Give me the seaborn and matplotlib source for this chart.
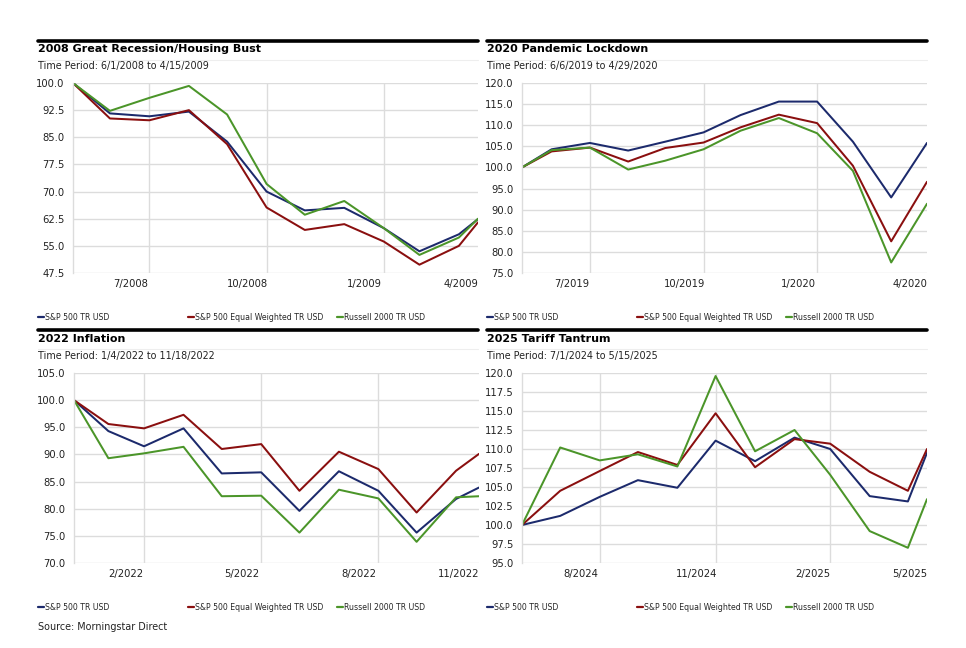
import numpy as np
import pandas as pd
import matplotlib.pyplot as plt
from matplotlib.lines import Line2D
from matplotlib.ticker import FormatStrFormatter
import seaborn as sns

# series names and colours
series = ['S&P 500 TR USD', 'S&P 500 Equal Weighted TR USD', 'Russell 2000 TR USD']
colors = ['#1c2a6c', '#8a0f0f', '#4b9529']

# 2008 Great Recession / Housing Bust
dates_2008 = ['2008-06-01', '2008-06-30', '2008-07-31', '2008-08-31', '2008-09-30', '2008-10-31',
              '2008-11-30', '2008-12-31', '2009-01-31', '2009-02-28', '2009-03-31', '2009-04-15']
spx_2008 = [100.0, 91.6, 90.8, 92.1, 83.8, 70.0, 64.8, 65.5, 59.9, 53.5, 58.2, 62.4]
ew_2008 = [100.0, 90.2, 89.7, 92.5, 83.1, 65.6, 59.4, 61.0, 56.2, 49.8, 55.0, 61.5]
rut_2008 = [100.0, 92.3, 95.9, 99.2, 91.3, 72.1, 63.6, 67.4, 59.9, 52.5, 57.3, 62.5]

# 2020 Pandemic Lockdown
dates_2020 = ['2019-06-06', '2019-06-30', '2019-07-31', '2019-08-31', '2019-09-30', '2019-10-31',
              '2019-11-30', '2019-12-31', '2020-01-31', '2020-02-29', '2020-03-31', '2020-04-29']
spx_2020 = [100.0, 104.3, 105.8, 104.0, 106.1, 108.3, 112.4, 115.6, 115.6, 106.1, 92.9, 105.8]
ew_2020 = [100.0, 103.8, 104.7, 101.4, 104.6, 105.9, 109.5, 112.5, 110.5, 100.4, 82.5, 96.6]
rut_2020 = [100.0, 104.1, 104.7, 99.5, 101.6, 104.3, 108.7, 111.7, 108.1, 99.2, 77.5, 91.4]

# 2022 Inflation
dates_2022 = ['2022-01-04', '2022-01-31', '2022-02-28', '2022-03-31', '2022-04-30', '2022-05-31',
              '2022-06-30', '2022-07-31', '2022-08-31', '2022-09-30', '2022-10-31', '2022-11-18']
spx_2022 = [100.0, 94.3, 91.5, 94.8, 86.5, 86.7, 79.6, 86.9, 83.3, 75.6, 81.8, 83.9]
ew_2022 = [100.0, 95.6, 94.8, 97.3, 91.0, 91.9, 83.3, 90.5, 87.3, 79.3, 87.0, 90.1]
rut_2022 = [100.0, 89.3, 90.2, 91.4, 82.3, 82.4, 75.6, 83.5, 81.9, 73.9, 82.1, 82.3]

# 2025 Tariff Tantrum
dates_2025 = ['2024-07-01', '2024-07-31', '2024-08-31', '2024-09-30', '2024-10-31', '2024-11-30',
              '2024-12-31', '2025-01-31', '2025-02-28', '2025-03-31', '2025-04-30', '2025-05-15']
spx_2025 = [100.0, 101.2, 103.7, 105.9, 104.9, 111.1, 108.4, 111.5, 110.0, 103.8, 103.1, 109.5]
ew_2025 = [100.0, 104.5, 107.1, 109.6, 107.9, 114.7, 107.6, 111.3, 110.7, 107.0, 104.5, 110.0]
rut_2025 = [100.0, 110.2, 108.5, 109.3, 107.7, 119.6, 109.7, 112.5, 106.6, 99.2, 97.0, 103.4]

# tick labels (label at mid month, gridline at month end)
labels_2008 = ['7/2008', '10/2008', '1/2009', '4/2009']
labpos_2008 = ['2008-07-16', '2008-10-16', '2009-01-16']
grid_2008 = ['2008-07-31', '2008-10-31', '2009-01-31']
labels_2020 = ['7/2019', '10/2019', '1/2020', '4/2020']
labpos_2020 = ['2019-07-16', '2019-10-16', '2020-01-16']
grid_2020 = ['2019-07-31', '2019-10-31', '2020-01-31']
labels_2022 = ['2/2022', '5/2022', '8/2022', '11/2022']
labpos_2022 = ['2022-02-14', '2022-05-16', '2022-08-16']
grid_2022 = ['2022-02-28', '2022-05-31', '2022-08-31']
labels_2025 = ['8/2024', '11/2024', '2/2025', '5/2025']
labpos_2025 = ['2024-08-16', '2024-11-15', '2025-02-14']
grid_2025 = ['2024-08-31', '2024-11-30', '2025-02-28']

panels = [
    dict(title='2008 Great Recession/Housing Bust', period='Time Period: 6/1/2008 to 4/15/2009',
         dates=dates_2008, vals=[spx_2008, ew_2008, rut_2008], ylim=(47.5, 100), step=7.5,
         labels=labels_2008, labpos=labpos_2008, grid=grid_2008),
    dict(title='2020 Pandemic Lockdown', period='Time Period: 6/6/2019 to 4/29/2020',
         dates=dates_2020, vals=[spx_2020, ew_2020, rut_2020], ylim=(75, 120), step=5,
         labels=labels_2020, labpos=labpos_2020, grid=grid_2020),
    dict(title='2022 Inflation', period='Time Period: 1/4/2022 to 11/18/2022',
         dates=dates_2022, vals=[spx_2022, ew_2022, rut_2022], ylim=(70, 105), step=5,
         labels=labels_2022, labpos=labpos_2022, grid=grid_2022),
    dict(title='2025 Tariff Tantrum', period='Time Period: 7/1/2024 to 5/15/2025',
         dates=dates_2025, vals=[spx_2025, ew_2025, rut_2025], ylim=(95, 120), step=2.5,
         labels=labels_2025, labpos=labpos_2025, grid=grid_2025),
]

W, H = 966, 648
sns.set_style('white')
plt.rcParams['font.family'] = ['DejaVu Sans']

fig = plt.figure(figsize=(W / 100, H / 100), dpi=100)

# pixel layout: (panel left, panel right, plot left, plot right, top line y, plot top, plot bottom)
boxes = [
    (38, 478, 73, 478, 41, 83, 273),
    (487, 927, 522, 927, 41, 83, 273),
    (38, 478, 74, 479, 330, 373, 563),
    (487, 927, 522, 927, 330, 373, 563),
]

grid_color = '#dcdcdc'

for p, (pl, pr, al, ar, ty, at, ab) in zip(panels, boxes):
    ax = fig.add_axes([al / W, 1 - ab / H, (ar - al) / W, (ab - at) / H])

    rows = []
    for name, vals in zip(series, p['vals']):
        for d, v in zip(p['dates'], vals):
            rows.append({'date': pd.Timestamp(d), 'value': v, 'series': name})
    df = pd.DataFrame(rows)

    sns.lineplot(data=df, x='date', y='value', hue='series', hue_order=series,
                 palette=colors, linewidth=1.45, legend=False, ax=ax)

    start, end = pd.Timestamp(p['dates'][0]), pd.Timestamp(p['dates'][-1])
    ax.set_xlim(start, end)
    lo, hi = p['ylim']
    ax.set_ylim(lo, hi)
    ax.set_yticks(np.arange(lo, hi + 0.01, p['step']))
    ax.yaxis.set_major_formatter(FormatStrFormatter('%.1f'))
    ax.grid(axis='y', color=grid_color, linewidth=1)

    # labels mid month, gridlines at month end
    pos = [pd.Timestamp(d) for d in p['labpos']] + [end]
    ax.set_xticks(pos)
    ax.set_xticklabels(p['labels'])
    ax.get_xticklabels()[-1].set_ha('right')
    ax.set_xticks([pd.Timestamp(d) for d in p['grid']] + [end], minor=True)
    ax.grid(axis='x', which='minor', color=grid_color, linewidth=1)
    ax.tick_params(axis='both', which='both', length=0, labelsize=7.2, colors='#222222')
    ax.tick_params(axis='x', pad=4)
    ax.tick_params(axis='y', pad=6)
    ax.set_xlabel('')
    ax.set_ylabel('')
    for side in ['top', 'right', 'bottom']:
        ax.spines[side].set_visible(False)
    ax.spines['left'].set_color(grid_color)
    ax.spines['left'].set_linewidth(1)

    # title bar
    fig.add_artist(Line2D([pl / W, pr / W], [1 - ty / H, 1 - ty / H], color='black', linewidth=2.6))
    fig.add_artist(Line2D([pl / W, pr / W], [1 - (ty + 19) / H, 1 - (ty + 19) / H],
                          color='#eeeeee', linewidth=0.8))
    fig.text(pl / W, 1 - (ty + 8.5) / H, p['title'], fontsize=8.0, fontweight='bold',
             va='center', ha='left', color='black')
    fig.text(pl / W, 1 - (ty + 25.5) / H, p['period'], fontsize=6.9, va='center', ha='left',
             color='#222222')

    # legend entries
    ly = ab + 44
    for name, c, off in zip(series, colors, [0, 150, 299]):
        h = Line2D([], [], color=c, linewidth=1.6)
        fig.legend(handles=[h], labels=[name], loc='center left', frameon=False,
                   bbox_to_anchor=((pl + off - 2) / W, 1 - ly / H), fontsize=5.6,
                   handlelength=0.75, handletextpad=0.1, borderaxespad=0, borderpad=0.3)

fig.text(38 / W, 1 - 626.5 / H, 'Source: Morningstar Direct', fontsize=6.9, va='center',
         ha='left', color='#222222')

plt.savefig('out.png', dpi=100)
